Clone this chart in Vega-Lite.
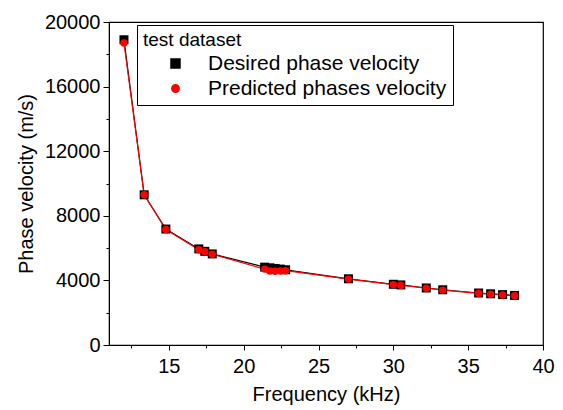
{
  "$schema": "https://vega.github.io/schema/vega-lite/v6.json",
  "width": 434,
  "height": 323,
  "autosize": {"type": "none"},
  "padding": {"left": 109, "top": 22, "right": 20, "bottom": 65},
  "config": {
    "font": "Liberation Sans",
    "view": {"stroke": "#000000", "strokeWidth": 1.2},
    "legend": {
      "orient": "none", "legendX": 28, "legendY": 3,
      "titleFontSize": 19, "titleFontWeight": "normal", "titleColor": "#000",
      "titlePadding": 3,
      "labelFontSize": 21, "labelColor": "#000", "labelLimit": 400,
      "padding": 6, "strokeColor": "#000", "fillColor": "#fff",
      "symbolSize": 81, "symbolOffset": 22, "labelOffset": 22, "rowPadding": 3,
      "symbolOpacity": 1
    }
  },
  "data": {
    "values": [
      {"freq": 12.0, "series": "Desired phase velocity", "v": 18900},
      {"freq": 13.35, "series": "Desired phase velocity", "v": 9300},
      {"freq": 14.8, "series": "Desired phase velocity", "v": 7180},
      {"freq": 17.0, "series": "Desired phase velocity", "v": 5950},
      {"freq": 17.4, "series": "Desired phase velocity", "v": 5800},
      {"freq": 17.9, "series": "Desired phase velocity", "v": 5640},
      {"freq": 21.4, "series": "Desired phase velocity", "v": 4820},
      {"freq": 21.75, "series": "Desired phase velocity", "v": 4780},
      {"freq": 22.1, "series": "Desired phase velocity", "v": 4740},
      {"freq": 22.45, "series": "Desired phase velocity", "v": 4700},
      {"freq": 22.8, "series": "Desired phase velocity", "v": 4660},
      {"freq": 27.0, "series": "Desired phase velocity", "v": 4100},
      {"freq": 30.0, "series": "Desired phase velocity", "v": 3760},
      {"freq": 30.5, "series": "Desired phase velocity", "v": 3720},
      {"freq": 32.2, "series": "Desired phase velocity", "v": 3530},
      {"freq": 33.3, "series": "Desired phase velocity", "v": 3420},
      {"freq": 35.7, "series": "Desired phase velocity", "v": 3220},
      {"freq": 36.5, "series": "Desired phase velocity", "v": 3170},
      {"freq": 37.3, "series": "Desired phase velocity", "v": 3120},
      {"freq": 38.1, "series": "Desired phase velocity", "v": 3070},
      {"freq": 12.0, "series": "Predicted phases velocity", "v": 18700},
      {"freq": 13.35, "series": "Predicted phases velocity", "v": 9300},
      {"freq": 14.8, "series": "Predicted phases velocity", "v": 7150},
      {"freq": 17.0, "series": "Predicted phases velocity", "v": 5900},
      {"freq": 17.4, "series": "Predicted phases velocity", "v": 5780},
      {"freq": 17.9, "series": "Predicted phases velocity", "v": 5620},
      {"freq": 21.4, "series": "Predicted phases velocity", "v": 4700},
      {"freq": 21.75, "series": "Predicted phases velocity", "v": 4580},
      {"freq": 22.1, "series": "Predicted phases velocity", "v": 4570},
      {"freq": 22.45, "series": "Predicted phases velocity", "v": 4580},
      {"freq": 22.8, "series": "Predicted phases velocity", "v": 4600},
      {"freq": 27.0, "series": "Predicted phases velocity", "v": 4080},
      {"freq": 30.0, "series": "Predicted phases velocity", "v": 3740},
      {"freq": 30.5, "series": "Predicted phases velocity", "v": 3700},
      {"freq": 32.2, "series": "Predicted phases velocity", "v": 3520},
      {"freq": 33.3, "series": "Predicted phases velocity", "v": 3400},
      {"freq": 35.7, "series": "Predicted phases velocity", "v": 3200},
      {"freq": 36.5, "series": "Predicted phases velocity", "v": 3150},
      {"freq": 37.3, "series": "Predicted phases velocity", "v": 3100},
      {"freq": 38.1, "series": "Predicted phases velocity", "v": 3050}
    ]
  },
  "layer": [
    {
      "mark": {"type": "line", "strokeWidth": 1.2},
      "encoding": {
        "x": {
          "field": "freq", "type": "quantitative",
          "scale": {"domain": [11, 40], "nice": false, "zero": false},
          "axis": {
            "orient": "bottom", "title": "Frequency (kHz)", "values": [15, 20, 25, 30, 35, 40],
            "grid": false, "domainColor": "#000", "tickColor": "#000", "tickSize": 5,
            "labelFontSize": 20, "labelColor": "#000", "labelPadding": 6, "labelFlush": false,
            "titleFontSize": 20, "titleFontWeight": "normal", "titleColor": "#000", "titlePadding": 8
          }
        },
        "y": {
          "field": "v", "type": "quantitative",
          "scale": {"domain": [0, 20000], "nice": false},
          "axis": {
            "orient": "left", "title": "Phase velocity (m/s)", "values": [0, 4000, 8000, 12000, 16000, 20000],
            "format": "d", "grid": false, "domainColor": "#000", "tickColor": "#000", "tickSize": 6,
            "labelFontSize": 20, "labelColor": "#000", "labelPadding": 3,
            "titleFontSize": 20, "titleFontWeight": "normal", "titleColor": "#000", "titlePadding": 8
          }
        },
        "color": {
          "field": "series", "type": "nominal",
          "scale": {"domain": ["Desired phase velocity", "Predicted phases velocity"], "range": ["#000000", "#ff0000"]},
          "legend": {"title": "test dataset"}
        }
      }
    },
    {
      "mark": {"type": "point", "filled": true, "opacity": 1},
      "encoding": {
        "x": {
          "field": "freq", "type": "quantitative",
          "axis": {
            "orient": "bottom", "values": [12.5, 17.5, 22.5, 27.5, 32.5, 37.5], "labels": false,
            "domain": false, "grid": false, "tickColor": "#000", "tickSize": 3, "title": null
          }
        },
        "y": {
          "field": "v", "type": "quantitative",
          "axis": {
            "orient": "left", "values": [2000, 6000, 10000, 14000, 18000], "labels": false,
            "domain": false, "grid": false, "tickColor": "#000", "tickSize": 3, "title": null
          }
        },
        "color": {
          "field": "series", "type": "nominal",
          "scale": {"domain": ["Desired phase velocity", "Predicted phases velocity"], "range": ["#000000", "#ff0000"]},
          "legend": {"title": "test dataset"}
        },
        "shape": {
          "field": "series", "type": "nominal",
          "scale": {"domain": ["Desired phase velocity", "Predicted phases velocity"], "range": ["square", "circle"]},
          "legend": null
        },
        "size": {
          "field": "series", "type": "nominal",
          "scale": {"domain": ["Desired phase velocity", "Predicted phases velocity"], "range": [81, 55]},
          "legend": null
        }
      }
    }
  ],
  "resolve": {"axis": {"x": "independent", "y": "independent"}}
}
